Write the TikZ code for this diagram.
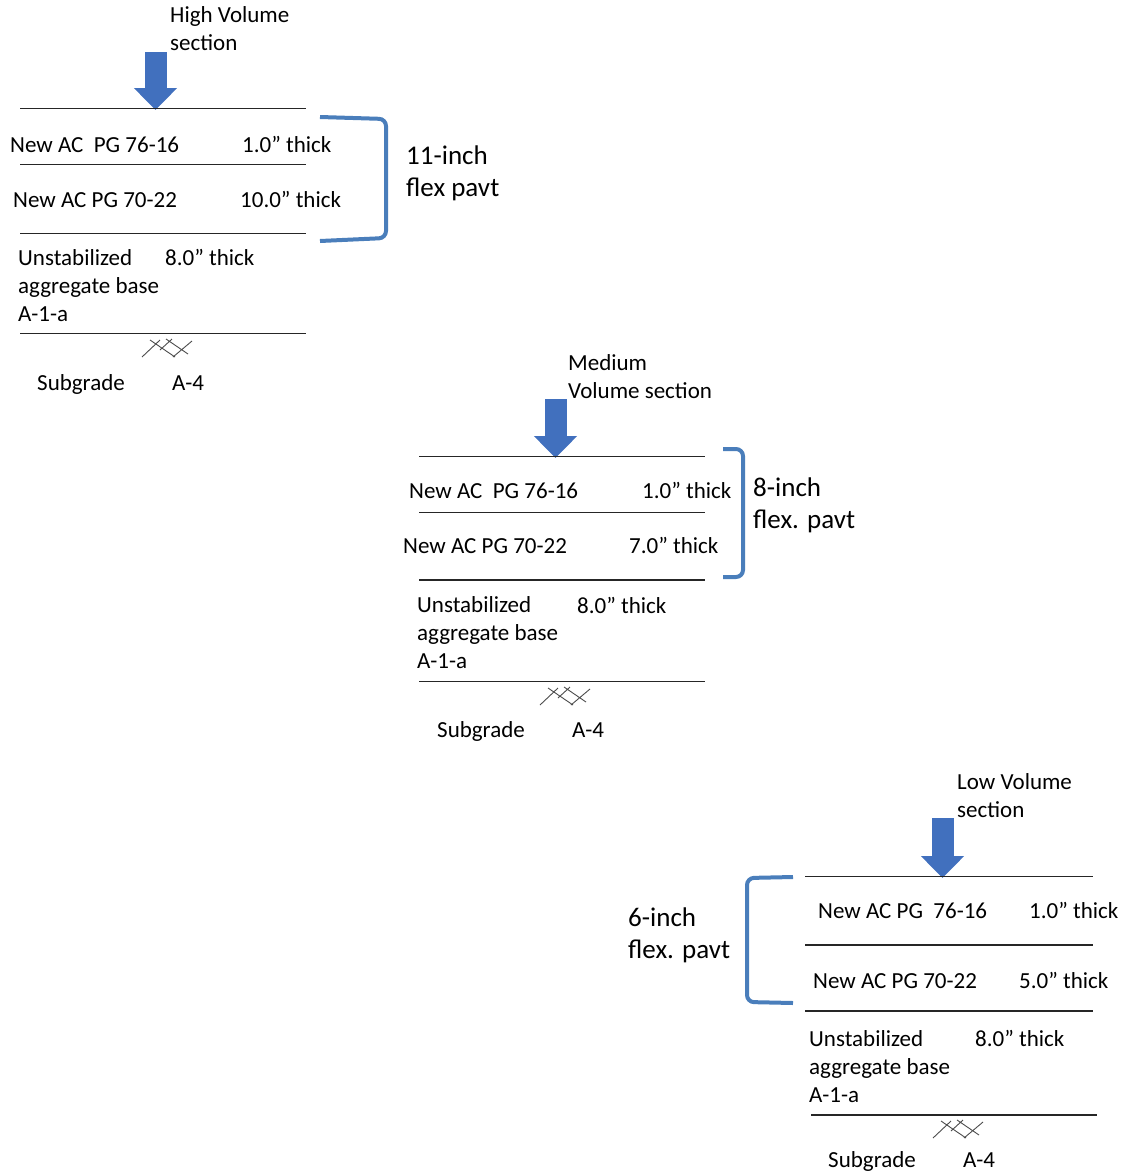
\documentclass[tikz,border=0pt]{standalone}
\usepackage{fontspec}
\setmainfont{Carlito}
\usetikzlibrary{arrows.meta}
\definecolor{arrowcol}{HTML}{4170BE}
\definecolor{bracecol}{HTML}{4A7EBB}
\colorlet{layercol}{black!85}
\colorlet{hatchcol}{black!70}
\tikzset{
  txt/.style={anchor=base west, inner sep=0pt, align=left,
    font=\fontsize{23}{28}\selectfont},
  bigtxt/.style={anchor=base west, inner sep=0pt, align=left,
    font=\fontsize{27}{32}\selectfont},
  layer/.style={line width=1.3pt, layercol},
  blockarrow/.style={line width=22pt, arrowcol,
    -{Triangle[width=42pt,length=22pt]}},
  brace/.style={line width=4pt, bracecol, rounded corners=7pt},
  hatch/.style={line width=0.9pt, hatchcol}
}

\begin{document}
\begin{tikzpicture}[x=1pt, y=-1pt]
  \useasboundingbox (0,0) rectangle (1129,1175);

  % High volume section (multi-line nodes sit on their last baseline).
  \node[txt] (hvtitle) at (170,50) {High Volume\\section};
  \coordinate (hvtail) at (155.5,52);
  \coordinate (hvtip) at (155.5,110);
  \draw[blockarrow] (hvtail) -- (hvtip);
  \foreach \y in {108.5,164.5,233.5,333.5}
    \draw[layer] (20,\y) -- (306,\y);
  \node[txt] (hvsurf) at (10,152) {New AC\ \ PG 76-16};
  \node[txt] (hvsurft) at (242,152) {1.0” thick};
  \node[txt] (hvint) at (13,207) {New AC PG 70-22};
  \node[txt] (hvintt) at (240,207) {10.0” thick};
  \node[txt] (hvbase) at (18,321) {Unstabilized\\aggregate base\\A-1-a};
  \node[txt] (hvbaset) at (165,265) {8.0” thick};
  \node[txt] (hvsub) at (37,390) {Subgrade};
  \node[txt] (hvsubt) at (172,390) {A-4};
  \draw[brace] (320,117) -- (386,119) -- (386,238) -- (320,241);
  \node[bigtxt] (hvtotal) at (406,196) {11-inch\\flex pavt};

  % Medium volume section.
  \node[txt] (mvtitle) at (568,398) {Medium\\Volume section};
  \coordinate (mvtail) at (555.5,399);
  \coordinate (mvtip) at (555.5,458);
  \draw[blockarrow] (mvtail) -- (mvtip);
  \foreach \y in {456.5,512.5,580,681.5}
    \draw[layer] (419,\y) -- (705,\y);
  \node[txt] (mvsurf) at (409,498) {New AC\ \ PG 76-16};
  \node[txt] (mvsurft) at (642,498) {1.0” thick};
  \node[txt] (mvint) at (403,553) {New AC PG 70-22};
  \node[txt] (mvintt) at (629,553) {7.0” thick};
  \node[txt] (mvbase) at (417,668) {Unstabilized\\aggregate base\\A-1-a};
  \node[txt] (mvbaset) at (577,613) {8.0” thick};
  \node[txt] (mvsub) at (437,737) {Subgrade};
  \node[txt] (mvsubt) at (572,737) {A-4};
  \draw[brace] (723,449) -- (743,449) -- (743,577) -- (723,577);
  \node[bigtxt] (mvtotal) at (753,528) {8-inch\\flex. pavt};

  % Low volume section.
  \node[txt] (lvtitle) at (957,817) {Low Volume\\section};
  \coordinate (lvtail) at (942.5,818);
  \coordinate (lvtip) at (942.5,878);
  \draw[blockarrow] (lvtail) -- (lvtip);
  \foreach \y in {876.5,945,1011}
    \draw[layer] (805,\y) -- (1093,\y);
  \draw[layer] (811,1115) -- (1097,1115);
  \node[txt] (lvsurf) at (818,918) {New AC PG\ \ 76-16};
  \node[txt] (lvsurft) at (1029,918) {1.0” thick};
  \node[txt] (lvint) at (813,988) {New AC PG 70-22};
  \node[txt] (lvintt) at (1019,988) {5.0” thick};
  \node[txt] (lvbase) at (809,1102) {Unstabilized\\aggregate base\\A-1-a};
  \node[txt] (lvbaset) at (975,1046) {8.0” thick};
  \node[txt] (lvsub) at (828,1167) {Subgrade};
  \node[txt] (lvsubt) at (963,1167) {A-4};
  \draw[brace] (793,877) -- (747,878) -- (747,1002) -- (793,1003);
  \node[bigtxt] (lvtotal) at (628,958) {6-inch\\flex. pavt};

  % Subgrade hatching.
  \foreach \hx/\hy in {142/339, 540/687, 933/1120} {
    \begin{scope}[shift={(\hx,\hy)}]
      \draw[hatch] (0,18) -- (18,1) (8,1) -- (33,18)
        (18,11) -- (30,0) (24,0) -- (46,15) (31,18) -- (50,2);
    \end{scope}
  }

\end{tikzpicture}
\end{document}
